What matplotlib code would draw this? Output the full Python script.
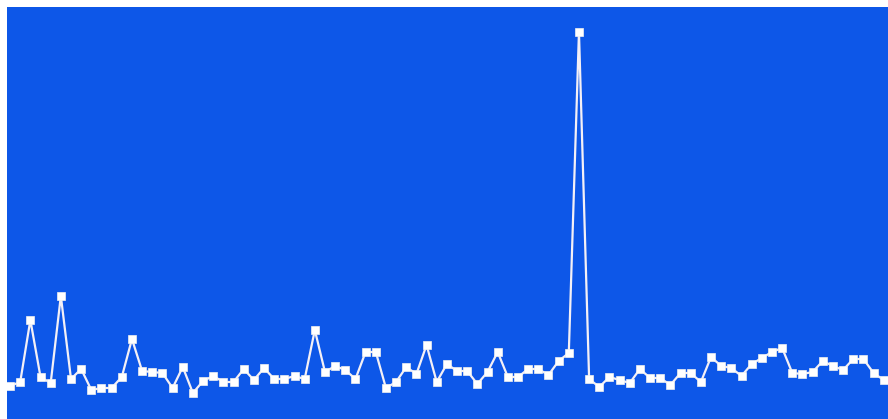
import matplotlib
matplotlib.use('Agg')
import matplotlib.pyplot as plt

indices = list(range(87))
valores = [33, 37, 99, 42, 36, 123, 40, 50, 29, 31,
           31, 42, 80, 48, 47, 46, 31, 52, 26, 38,
           43, 37, 37, 50, 39, 51, 40, 40, 43, 40,
           89, 47, 53, 49, 40, 67, 67, 31, 37, 52,
           45, 74, 37, 55, 48, 48, 35, 47, 67, 42,
           42, 50, 50, 44, 58, 66, 387, 40, 32, 42,
           39, 36, 50, 41, 41, 34, 46, 46, 37, 62,
           53, 51, 43, 55, 61, 67, 71, 46, 45, 47,
           58, 53, 49, 60, 60, 46, 39]

cor_fundo = '#0d57e8'


def gerar_grafico():
    fig = plt.figure(figsize=(8.88, 4.19), dpi=100, facecolor='white')
    # área azul começa ~7 px da borda esquerda e do topo
    ax = fig.add_axes([7 / 888, 0, 881 / 888, 412 / 419])
    ax.set_facecolor(cor_fundo)

    ax.plot(indices, valores, color='#f4f0f6', linewidth=1.6,
            marker='s', markersize=5.5, markerfacecolor='white',
            markeredgecolor='#f0f0f0', markeredgewidth=0.5)

    ax.set_xlim(-0.3, 86.42)
    ax.set_ylim(0, 412)
    ax.set_xticks([])
    ax.set_yticks([])
    for lado in ax.spines.values():
        lado.set_visible(False)

    fig.savefig('out.png', dpi=100, facecolor='white')
    plt.close(fig)


gerar_grafico()
